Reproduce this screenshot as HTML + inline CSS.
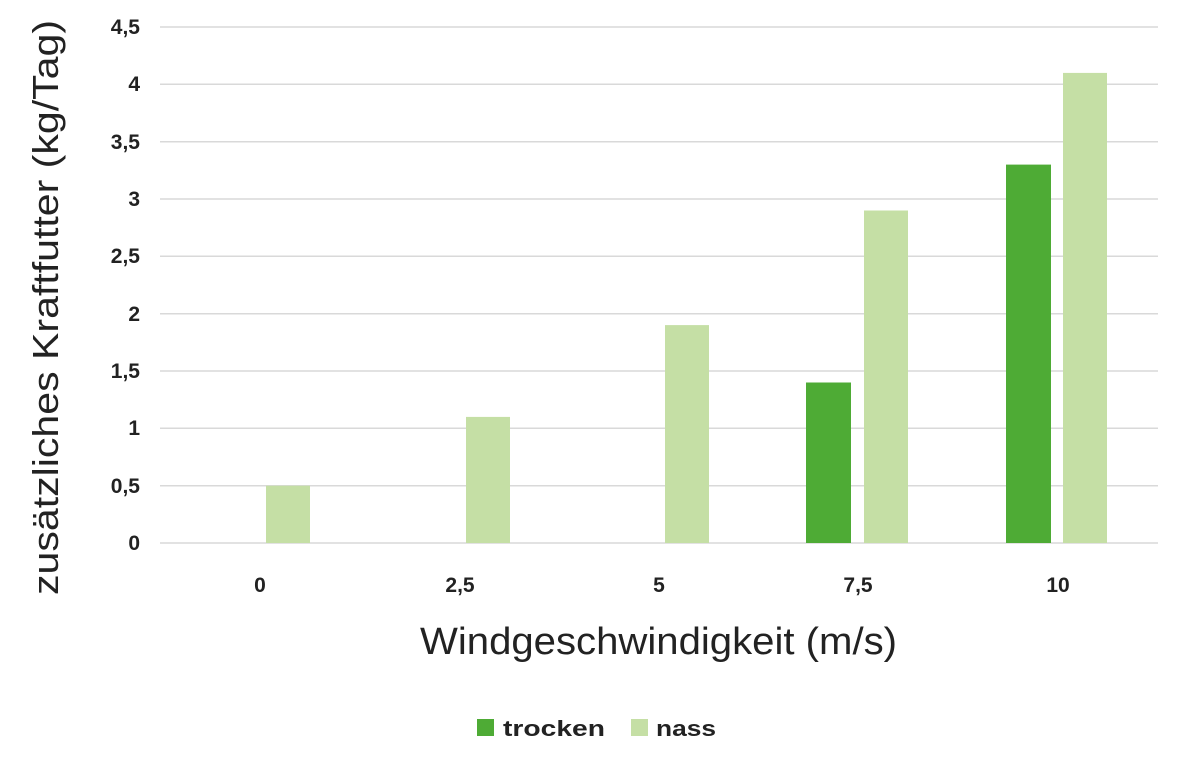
<!DOCTYPE html>
<html><head><meta charset="utf-8"><style>
html,body{margin:0;padding:0;background:#fff;}
svg{display:block;}
text{font-family:"Liberation Sans",sans-serif;fill:#222;}
</style></head><body>
<svg width="1180" height="764" viewBox="0 0 1180 764" xmlns="http://www.w3.org/2000/svg">
<g stroke="#d9d9d9" stroke-width="1.5">
<line x1="160" x2="1158" y1="27" y2="27"/>
<line x1="160" x2="1158" y1="84.3" y2="84.3"/>
<line x1="160" x2="1158" y1="141.7" y2="141.7"/>
<line x1="160" x2="1158" y1="199" y2="199"/>
<line x1="160" x2="1158" y1="256.3" y2="256.3"/>
<line x1="160" x2="1158" y1="313.7" y2="313.7"/>
<line x1="160" x2="1158" y1="371" y2="371"/>
<line x1="160" x2="1158" y1="428.3" y2="428.3"/>
<line x1="160" x2="1158" y1="485.7" y2="485.7"/>
<line x1="160" x2="1158" y1="543" y2="543"/>
</g>
<g font-size="21" font-weight="bold" text-anchor="end">
<text x="140" y="34">4,5</text>
<text x="140" y="91">4</text>
<text x="140" y="149">3,5</text>
<text x="140" y="206">3</text>
<text x="140" y="263">2,5</text>
<text x="140" y="321">2</text>
<text x="140" y="378">1,5</text>
<text x="140" y="435">1</text>
<text x="140" y="493">0,5</text>
<text x="140" y="550">0</text>
</g>
<g fill="#c5dfa5">
<rect x="266" y="485.7" width="44" height="57.3"/>
<rect x="466" y="416.9" width="44" height="126.1"/>
<rect x="665" y="325.1" width="44" height="217.9"/>
<rect x="864" y="210.5" width="44" height="332.5"/>
<rect x="1063" y="72.9" width="44" height="470.1"/>
</g>
<g fill="#4eab35">
<rect x="806" y="382.5" width="45" height="160.5"/>
<rect x="1006" y="164.6" width="45" height="378.4"/>
</g>
<g font-size="21" font-weight="bold" text-anchor="middle">
<text x="260" y="592">0</text>
<text x="460" y="592">2,5</text>
<text x="659" y="592">5</text>
<text x="858" y="592">7,5</text>
<text x="1058" y="592">10</text>
</g>
<text x="420" y="654" font-size="38" textLength="477" lengthAdjust="spacingAndGlyphs">Windgeschwindigkeit (m/s)</text>
<text transform="translate(58,595) rotate(-90)" font-size="36" textLength="575" lengthAdjust="spacingAndGlyphs">zusätzliches Kraftfutter (kg/Tag)</text>
<rect x="477" y="719" width="17" height="17" fill="#4eab35"/>
<text x="503" y="736" font-size="22" font-weight="bold" textLength="102" lengthAdjust="spacingAndGlyphs">trocken</text>
<rect x="631" y="719" width="17" height="17" fill="#c5dfa5"/>
<text x="656" y="736" font-size="22" font-weight="bold" textLength="60" lengthAdjust="spacingAndGlyphs">nass</text>
</svg>
</body></html>
